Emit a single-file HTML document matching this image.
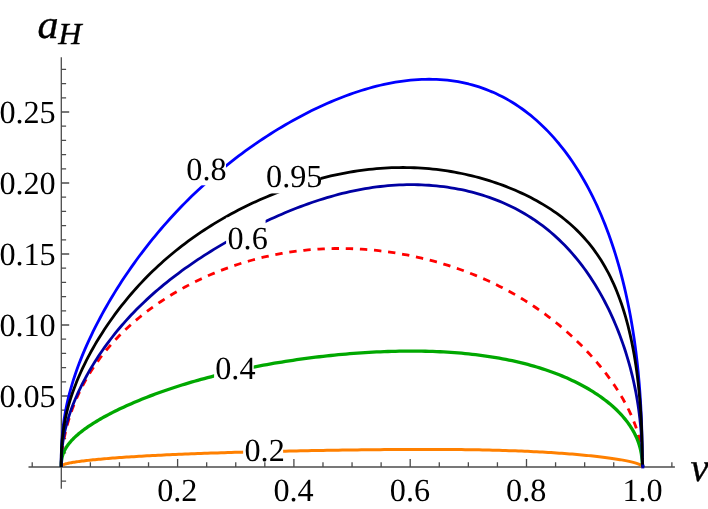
<!DOCTYPE html>
<html><head><meta charset="utf-8"><title>plot</title>
<style>
html,body{margin:0;padding:0;background:#fff;}
body{width:708px;height:509px;overflow:hidden;font-family:"Liberation Serif",serif;}
svg{display:block;will-change:transform;}
text{font-family:"Liberation Serif",serif;fill:#000;text-rendering:geometricPrecision;}
.t{font-size:32.2px;stroke:#000;stroke-width:0;}
.i{font-style:italic;stroke:#000;stroke-width:0.35;}
.c{fill:none;stroke-linejoin:round;}
</style></head><body>
<svg width="708" height="509" viewBox="0 0 708 509">
<rect width="708" height="509" fill="#fff"/>
<path d="M28.5,467.0 H674.9 M61.3,57.3 V488.7 M32.22,467.0 v-4.8 M90.38,467.0 v-4.8 M119.45,467.0 v-4.8 M148.53,467.0 v-4.8 M177.60,467.0 v-7.9 M206.68,467.0 v-4.8 M235.75,467.0 v-4.8 M264.82,467.0 v-4.8 M293.90,467.0 v-7.9 M322.98,467.0 v-4.8 M352.05,467.0 v-4.8 M381.13,467.0 v-4.8 M410.20,467.0 v-7.9 M439.28,467.0 v-4.8 M468.35,467.0 v-4.8 M497.43,467.0 v-4.8 M526.50,467.0 v-7.9 M555.58,467.0 v-4.8 M584.65,467.0 v-4.8 M613.73,467.0 v-4.8 M642.80,467.0 v-7.9 M671.88,467.0 v-4.8 M61.3,481.20 h4.8 M61.3,452.80 h4.8 M61.3,438.60 h4.8 M61.3,424.40 h4.8 M61.3,410.20 h4.8 M61.3,396.00 h7.9 M61.3,381.80 h4.8 M61.3,367.60 h4.8 M61.3,353.40 h4.8 M61.3,339.20 h4.8 M61.3,325.00 h7.9 M61.3,310.80 h4.8 M61.3,296.60 h4.8 M61.3,282.40 h4.8 M61.3,268.20 h4.8 M61.3,254.00 h7.9 M61.3,239.80 h4.8 M61.3,225.60 h4.8 M61.3,211.40 h4.8 M61.3,197.20 h4.8 M61.3,183.00 h7.9 M61.3,168.80 h4.8 M61.3,154.60 h4.8 M61.3,140.40 h4.8 M61.3,126.20 h4.8 M61.3,112.00 h7.9 M61.3,97.80 h4.8 M61.3,83.60 h4.8 M61.3,69.40 h4.8" stroke="#4c4c4c" stroke-width="1.3" fill="none"/>
<path class="c" d="M61.20,467.00 L61.23,466.62 L61.30,466.33 L61.43,466.08 L61.60,465.84 L61.83,465.61 L62.10,465.39 L62.43,465.18 L62.80,464.97 L63.23,464.77 L63.71,464.57 L64.23,464.37 L64.81,464.18 L65.43,463.99 L66.11,463.80 L66.83,463.61 L67.60,463.43 L68.42,463.24 L69.29,463.06 L70.21,462.88 L71.18,462.69 L72.20,462.51 L73.26,462.33 L74.38,462.15 L75.54,461.97 L76.75,461.79 L78.00,461.61 L79.31,461.43 L80.66,461.26 L82.06,461.08 L83.50,460.90 L84.99,460.72 L86.53,460.55 L88.11,460.37 L89.74,460.19 L91.41,460.02 L93.13,459.84 L94.89,459.67 L96.70,459.49 L98.55,459.32 L100.45,459.14 L102.38,458.97 L104.37,458.80 L106.39,458.62 L108.46,458.45 L110.57,458.28 L112.72,458.11 L114.91,457.94 L117.14,457.78 L119.41,457.61 L121.73,457.44 L124.08,457.28 L126.47,457.12 L128.90,456.96 L131.37,456.79 L133.88,456.64 L136.43,456.48 L139.01,456.32 L141.63,456.17 L144.28,456.01 L146.98,455.86 L149.70,455.71 L152.47,455.56 L155.26,455.42 L158.09,455.27 L160.96,455.13 L163.85,454.99 L166.78,454.85 L169.74,454.71 L172.74,454.58 L175.76,454.44 L178.81,454.31 L181.90,454.18 L185.01,454.05 L188.15,453.93 L191.32,453.81 L194.52,453.68 L197.75,453.56 L201.00,453.45 L204.28,453.33 L207.58,453.22 L210.91,453.10 L214.26,452.99 L217.64,452.88 L221.04,452.78 L224.46,452.67 L227.90,452.57 L231.37,452.47 L234.85,452.37 L238.36,452.27 L241.89,452.17 L245.43,452.08 L248.99,451.98 L252.58,451.89 L256.17,451.80 L259.79,451.71 L263.42,451.62 L267.07,451.54 L270.73,451.45 L274.40,451.37 L278.09,451.29 L281.79,451.21 L285.50,451.13 L289.23,451.05 L292.96,450.98 L296.71,450.90 L300.46,450.83 L304.22,450.75 L308.00,450.68 L311.78,450.61 L315.56,450.55 L319.35,450.48 L323.15,450.41 L326.96,450.35 L330.76,450.29 L334.57,450.23 L338.39,450.17 L342.20,450.11 L346.02,450.06 L349.84,450.00 L353.66,449.95 L357.48,449.90 L361.30,449.85 L365.11,449.80 L368.93,449.76 L372.74,449.72 L376.54,449.68 L380.35,449.64 L384.15,449.60 L387.94,449.57 L391.72,449.54 L395.50,449.52 L399.28,449.49 L403.04,449.47 L406.79,449.45 L410.54,449.44 L414.27,449.42 L418.00,449.41 L421.71,449.41 L425.41,449.41 L429.10,449.41 L432.77,449.41 L436.43,449.42 L440.08,449.44 L443.71,449.45 L447.33,449.47 L450.92,449.50 L454.51,449.53 L458.07,449.56 L461.61,449.60 L465.14,449.64 L468.65,449.69 L472.13,449.74 L475.60,449.80 L479.04,449.86 L482.46,449.93 L485.86,450.00 L489.24,450.07 L492.59,450.16 L495.92,450.24 L499.22,450.33 L502.50,450.43 L505.75,450.53 L508.98,450.63 L512.18,450.74 L515.35,450.86 L518.49,450.98 L521.60,451.10 L524.69,451.23 L527.74,451.37 L530.76,451.51 L533.76,451.65 L536.72,451.80 L539.65,451.96 L542.54,452.11 L545.41,452.28 L548.24,452.44 L551.03,452.61 L553.80,452.79 L556.52,452.97 L559.22,453.15 L561.87,453.34 L564.49,453.53 L567.07,453.72 L569.62,453.92 L572.13,454.12 L574.60,454.33 L577.03,454.54 L579.42,454.75 L581.77,454.96 L584.09,455.18 L586.36,455.40 L588.59,455.62 L590.78,455.84 L592.93,456.07 L595.04,456.30 L597.11,456.53 L599.13,456.76 L601.12,456.99 L603.05,457.23 L604.95,457.47 L606.80,457.70 L608.61,457.94 L610.37,458.19 L612.09,458.43 L613.76,458.67 L615.39,458.91 L616.97,459.16 L618.51,459.40 L620.00,459.65 L621.44,459.89 L622.84,460.14 L624.19,460.38 L625.50,460.63 L626.75,460.88 L627.96,461.12 L629.12,461.37 L630.24,461.62 L631.30,461.86 L632.32,462.11 L633.29,462.36 L634.21,462.60 L635.08,462.85 L635.90,463.10 L636.67,463.34 L637.39,463.59 L638.07,463.83 L638.69,464.08 L639.27,464.32 L639.79,464.57 L640.27,464.81 L640.70,465.05 L641.07,465.30 L641.40,465.54 L641.67,465.78 L641.90,466.03 L642.07,466.27 L642.20,466.51 L642.27,466.76 L642.80,467.00" stroke="#ff8000" stroke-width="3.0"/>
<path class="c" d="M61.20,467.00 L61.23,464.92 L61.30,462.53 L61.43,460.02 L61.60,457.43 L61.83,454.78 L62.10,452.08 L62.43,449.33 L62.80,446.56 L63.23,443.76 L63.71,440.94 L64.23,438.10 L64.81,435.24 L65.43,432.38 L66.11,429.51 L66.83,426.63 L67.60,423.75 L68.42,420.86 L69.29,417.98 L70.21,415.10 L71.18,412.23 L72.20,409.36 L73.26,406.50 L74.38,403.65 L75.54,400.80 L76.75,397.97 L78.00,395.16 L79.31,392.35 L80.66,389.56 L82.06,386.79 L83.50,384.04 L84.99,381.30 L86.53,378.58 L88.11,375.87 L89.74,373.19 L91.41,370.53 L93.13,367.89 L94.89,365.27 L96.70,362.67 L98.55,360.09 L100.45,357.53 L102.38,355.00 L104.37,352.49 L106.39,350.00 L108.46,347.54 L110.57,345.10 L112.72,342.68 L114.91,340.29 L117.14,337.92 L119.41,335.58 L121.73,333.26 L124.08,330.97 L126.47,328.69 L128.90,326.45 L131.37,324.23 L133.88,322.03 L136.43,319.86 L139.01,317.72 L141.63,315.60 L144.28,313.51 L146.98,311.44 L149.70,309.40 L152.47,307.38 L155.26,305.39 L158.09,303.43 L160.96,301.50 L163.85,299.59 L166.78,297.71 L169.74,295.86 L172.74,294.04 L175.76,292.25 L178.81,290.48 L181.90,288.75 L185.01,287.04 L188.15,285.37 L191.32,283.73 L194.52,282.11 L197.75,280.53 L201.00,278.99 L204.28,277.47 L207.58,275.99 L210.91,274.54 L214.26,273.13 L217.64,271.75 L221.04,270.41 L224.46,269.10 L227.90,267.83 L231.37,266.60 L234.85,265.40 L238.36,264.24 L241.89,263.12 L245.43,262.04 L248.99,261.00 L252.58,260.00 L256.17,259.03 L259.79,258.11 L263.42,257.23 L267.07,256.39 L270.73,255.59 L274.40,254.83 L278.09,254.12 L281.79,253.44 L285.50,252.81 L289.23,252.22 L292.96,251.68 L296.71,251.17 L300.46,250.71 L304.22,250.30 L308.00,249.92 L311.78,249.59 L315.56,249.30 L319.35,249.06 L323.15,248.86 L326.96,248.70 L330.76,248.58 L334.57,248.51 L338.39,248.48 L342.20,248.49 L346.02,248.54 L349.84,248.64 L353.66,248.78 L357.48,248.96 L361.30,249.18 L365.11,249.44 L368.93,249.75 L372.74,250.09 L376.54,250.48 L380.35,250.90 L384.15,251.37 L387.94,251.87 L391.72,252.42 L395.50,253.00 L399.28,253.63 L403.04,254.29 L406.79,254.99 L410.54,255.73 L414.27,256.51 L418.00,257.32 L421.71,258.18 L425.41,259.07 L429.10,260.00 L432.77,260.96 L436.43,261.96 L440.08,263.00 L443.71,264.08 L447.33,265.19 L450.92,266.34 L454.51,267.52 L458.07,268.74 L461.61,270.00 L465.14,271.29 L468.65,272.62 L472.13,273.98 L475.60,275.38 L479.04,276.81 L482.46,278.28 L485.86,279.78 L489.24,281.32 L492.59,282.89 L495.92,284.49 L499.22,286.13 L502.50,287.79 L505.75,289.50 L508.98,291.23 L512.18,293.00 L515.35,294.80 L518.49,296.63 L521.60,298.49 L524.69,300.38 L527.74,302.30 L530.76,304.25 L533.76,306.23 L536.72,308.23 L539.65,310.26 L542.54,312.32 L545.41,314.41 L548.24,316.52 L551.03,318.66 L553.80,320.82 L556.52,323.00 L559.22,325.20 L561.87,327.42 L564.49,329.67 L567.07,331.93 L569.62,334.21 L572.13,336.51 L574.60,338.82 L577.03,341.15 L579.42,343.49 L581.77,345.85 L584.09,348.21 L586.36,350.59 L588.59,352.98 L590.78,355.37 L592.93,357.77 L595.04,360.18 L597.11,362.60 L599.13,365.01 L601.12,367.44 L603.05,369.86 L604.95,372.28 L606.80,374.71 L608.61,377.13 L610.37,379.56 L612.09,381.98 L613.76,384.40 L615.39,386.81 L616.97,389.22 L618.51,391.63 L620.00,394.03 L621.44,396.43 L622.84,398.82 L624.19,401.20 L625.50,403.58 L626.75,405.95 L627.96,408.32 L629.12,410.68 L630.24,413.04 L631.30,415.39 L632.32,417.73 L633.29,420.07 L634.21,422.41 L635.08,424.75 L635.90,427.08 L636.67,429.42 L637.39,431.75 L638.07,434.09 L638.69,436.43 L639.27,438.79 L639.79,441.15 L640.27,443.52 L640.70,445.91 L641.07,448.32 L641.40,450.75 L641.67,453.23 L641.90,455.74 L642.07,458.31 L642.20,460.97 L642.27,463.77 L642.80,467.00" stroke="#ff0000" stroke-width="2.8" stroke-dasharray="7.4 6.76" stroke-dashoffset="-13.94"/>
<path class="c" d="M61.20,467.00 L61.23,464.69 L61.30,462.98 L61.43,461.44 L61.60,460.00 L61.83,458.62 L62.10,457.30 L62.43,456.02 L62.80,454.76 L63.23,453.54 L63.71,452.34 L64.23,451.15 L64.81,449.99 L65.43,448.83 L66.11,447.69 L66.83,446.55 L67.60,445.43 L68.42,444.31 L69.29,443.19 L70.21,442.08 L71.18,440.98 L72.20,439.88 L73.26,438.78 L74.38,437.68 L75.54,436.58 L76.75,435.49 L78.00,434.39 L79.31,433.30 L80.66,432.21 L82.06,431.11 L83.50,430.01 L84.99,428.92 L86.53,427.82 L88.11,426.72 L89.74,425.62 L91.41,424.52 L93.13,423.42 L94.89,422.32 L96.70,421.22 L98.55,420.12 L100.45,419.01 L102.38,417.91 L104.37,416.81 L106.39,415.70 L108.46,414.60 L110.57,413.50 L112.72,412.39 L114.91,411.29 L117.14,410.19 L119.41,409.10 L121.73,408.00 L124.08,406.91 L126.47,405.81 L128.90,404.73 L131.37,403.64 L133.88,402.56 L136.43,401.48 L139.01,400.41 L141.63,399.34 L144.28,398.27 L146.98,397.22 L149.70,396.16 L152.47,395.12 L155.26,394.07 L158.09,393.04 L160.96,392.01 L163.85,390.99 L166.78,389.98 L169.74,388.98 L172.74,387.98 L175.76,387.00 L178.81,386.02 L181.90,385.05 L185.01,384.09 L188.15,383.14 L191.32,382.20 L194.52,381.27 L197.75,380.36 L201.00,379.45 L204.28,378.55 L207.58,377.67 L210.91,376.79 L214.26,375.93 L217.64,375.08 L221.04,374.24 L224.46,373.42 L227.90,372.60 L231.37,371.80 L234.85,371.02 L238.36,370.24 L241.89,369.48 L245.43,368.73 L248.99,368.00 L252.58,367.27 L256.17,366.57 L259.79,365.87 L263.42,365.19 L267.07,364.53 L270.73,363.88 L274.40,363.24 L278.09,362.61 L281.79,362.01 L285.50,361.41 L289.23,360.83 L292.96,360.27 L296.71,359.72 L300.46,359.19 L304.22,358.67 L308.00,358.17 L311.78,357.68 L315.56,357.21 L319.35,356.75 L323.15,356.32 L326.96,355.89 L330.76,355.49 L334.57,355.10 L338.39,354.72 L342.20,354.37 L346.02,354.03 L349.84,353.71 L353.66,353.40 L357.48,353.12 L361.30,352.85 L365.11,352.60 L368.93,352.37 L372.74,352.15 L376.54,351.96 L380.35,351.78 L384.15,351.63 L387.94,351.49 L391.72,351.37 L395.50,351.28 L399.28,351.20 L403.04,351.14 L406.79,351.11 L410.54,351.09 L414.27,351.10 L418.00,351.13 L421.71,351.18 L425.41,351.25 L429.10,351.34 L432.77,351.46 L436.43,351.60 L440.08,351.76 L443.71,351.95 L447.33,352.15 L450.92,352.39 L454.51,352.64 L458.07,352.92 L461.61,353.22 L465.14,353.55 L468.65,353.90 L472.13,354.28 L475.60,354.68 L479.04,355.10 L482.46,355.55 L485.86,356.03 L489.24,356.53 L492.59,357.05 L495.92,357.60 L499.22,358.18 L502.50,358.78 L505.75,359.40 L508.98,360.05 L512.18,360.73 L515.35,361.43 L518.49,362.15 L521.60,362.90 L524.69,363.67 L527.74,364.47 L530.76,365.29 L533.76,366.14 L536.72,367.01 L539.65,367.91 L542.54,368.82 L545.41,369.76 L548.24,370.73 L551.03,371.71 L553.80,372.72 L556.52,373.76 L559.22,374.81 L561.87,375.88 L564.49,376.98 L567.07,378.10 L569.62,379.24 L572.13,380.40 L574.60,381.57 L577.03,382.77 L579.42,383.99 L581.77,385.23 L584.09,386.48 L586.36,387.76 L588.59,389.05 L590.78,390.36 L592.93,391.68 L595.04,393.02 L597.11,394.38 L599.13,395.76 L601.12,397.15 L603.05,398.55 L604.95,399.97 L606.80,401.41 L608.61,402.86 L610.37,404.32 L612.09,405.80 L613.76,407.29 L615.39,408.79 L616.97,410.31 L618.51,411.84 L620.00,413.38 L621.44,414.93 L622.84,416.50 L624.19,418.08 L625.50,419.67 L626.75,421.27 L627.96,422.88 L629.12,424.51 L630.24,426.14 L631.30,427.79 L632.32,429.45 L633.29,431.13 L634.21,432.81 L635.08,434.51 L635.90,436.22 L636.67,437.94 L637.39,439.68 L638.07,441.43 L638.69,443.20 L639.27,444.99 L639.79,446.79 L640.27,448.62 L640.70,450.46 L641.07,452.33 L641.40,454.23 L641.67,456.16 L641.90,458.13 L642.07,460.15 L642.20,462.25 L642.27,464.45 L642.80,467.00" stroke="#00a800" stroke-width="3.3"/>
<path class="c" d="M61.20,467.00 L61.23,460.00 L61.30,454.81 L61.43,450.13 L61.60,445.75 L61.83,441.58 L62.10,437.55 L62.43,433.65 L62.80,429.83 L63.23,426.09 L63.71,422.42 L64.23,418.79 L64.81,415.21 L65.43,411.65 L66.11,408.13 L66.83,404.63 L67.60,401.14 L68.42,397.67 L69.29,394.21 L70.21,390.76 L71.18,387.31 L72.20,383.86 L73.26,380.41 L74.38,376.96 L75.54,373.51 L76.75,370.05 L78.00,366.58 L79.31,363.11 L80.66,359.63 L82.06,356.14 L83.50,352.64 L84.99,349.14 L86.53,345.62 L88.11,342.10 L89.74,338.57 L91.41,335.03 L93.13,331.48 L94.89,327.92 L96.70,324.36 L98.55,320.79 L100.45,317.22 L102.38,313.64 L104.37,310.05 L106.39,306.47 L108.46,302.88 L110.57,299.29 L112.72,295.70 L114.91,292.11 L117.14,288.52 L119.41,284.94 L121.73,281.36 L124.08,277.79 L126.47,274.22 L128.90,270.67 L131.37,267.12 L133.88,263.58 L136.43,260.05 L139.01,256.54 L141.63,253.04 L144.28,249.55 L146.98,246.08 L149.70,242.63 L152.47,239.19 L155.26,235.78 L158.09,232.38 L160.96,229.01 L163.85,225.66 L166.78,222.33 L169.74,219.02 L172.74,215.74 L175.76,212.48 L178.81,209.25 L181.90,206.05 L185.01,202.87 L188.15,199.72 L191.32,196.60 L194.52,193.51 L197.75,190.45 L201.00,187.42 L204.28,184.42 L207.58,181.45 L210.91,178.51 L214.26,175.60 L217.64,172.73 L221.04,169.89 L224.46,167.08 L227.90,164.30 L231.37,161.56 L234.85,158.85 L238.36,156.18 L241.89,153.54 L245.43,150.94 L248.99,148.37 L252.58,145.84 L256.17,143.35 L259.79,140.89 L263.42,138.47 L267.07,136.09 L270.73,133.74 L274.40,131.43 L278.09,129.17 L281.79,126.94 L285.50,124.75 L289.23,122.60 L292.96,120.50 L296.71,118.43 L300.46,116.41 L304.22,114.43 L308.00,112.50 L311.78,110.61 L315.56,108.77 L319.35,106.97 L323.15,105.22 L326.96,103.51 L330.76,101.86 L334.57,100.26 L338.39,98.70 L342.20,97.20 L346.02,95.75 L349.84,94.36 L353.66,93.01 L357.48,91.73 L361.30,90.50 L365.11,89.33 L368.93,88.22 L372.74,87.16 L376.54,86.17 L380.35,85.24 L384.15,84.37 L387.94,83.57 L391.72,82.83 L395.50,82.16 L399.28,81.56 L403.04,81.02 L406.79,80.55 L410.54,80.15 L414.27,79.82 L418.00,79.57 L421.71,79.39 L425.41,79.28 L429.10,79.24 L432.77,79.28 L436.43,79.40 L440.08,79.59 L443.71,79.86 L447.33,80.21 L450.92,80.64 L454.51,81.15 L458.07,81.73 L461.61,82.40 L465.14,83.15 L468.65,83.98 L472.13,84.89 L475.60,85.88 L479.04,86.96 L482.46,88.11 L485.86,89.36 L489.24,90.68 L492.59,92.09 L495.92,93.58 L499.22,95.15 L502.50,96.81 L505.75,98.55 L508.98,100.37 L512.18,102.28 L515.35,104.27 L518.49,106.35 L521.60,108.50 L524.69,110.75 L527.74,113.07 L530.76,115.47 L533.76,117.96 L536.72,120.53 L539.65,123.19 L542.54,125.92 L545.41,128.73 L548.24,131.63 L551.03,134.61 L553.80,137.66 L556.52,140.80 L559.22,144.01 L561.87,147.31 L564.49,150.68 L567.07,154.13 L569.62,157.66 L572.13,161.27 L574.60,164.95 L577.03,168.71 L579.42,172.55 L581.77,176.46 L584.09,180.45 L586.36,184.52 L588.59,188.65 L590.78,192.87 L592.93,197.15 L595.04,201.51 L597.11,205.94 L599.13,210.45 L601.12,215.02 L603.05,219.67 L604.95,224.39 L606.80,229.18 L608.61,234.04 L610.37,238.96 L612.09,243.96 L613.76,249.03 L615.39,254.17 L616.97,259.37 L618.51,264.65 L620.00,269.99 L621.44,275.39 L622.84,280.87 L624.19,286.41 L625.50,292.02 L626.75,297.69 L627.96,303.43 L629.12,309.24 L630.24,315.11 L631.30,321.05 L632.32,327.06 L633.29,333.13 L634.21,339.27 L635.08,345.48 L635.90,351.75 L636.67,358.10 L637.39,364.52 L638.07,371.01 L638.69,377.58 L639.27,384.22 L639.79,390.95 L640.27,397.77 L640.70,404.68 L641.07,411.70 L641.40,418.84 L641.67,426.10 L641.90,433.53 L642.07,441.16 L642.20,449.05 L642.27,457.38 L642.80,467.00" stroke="#0000ff" stroke-width="2.8"/>
<path class="c" d="M61.20,467.00 L61.23,463.26 L61.30,460.02 L61.43,456.94 L61.60,453.96 L61.83,451.05 L62.10,448.18 L62.43,445.35 L62.80,442.55 L63.23,439.77 L63.71,437.01 L64.23,434.26 L64.81,431.52 L65.43,428.78 L66.11,426.04 L66.83,423.31 L67.60,420.57 L68.42,417.84 L69.29,415.09 L70.21,412.34 L71.18,409.59 L72.20,406.83 L73.26,404.06 L74.38,401.28 L75.54,398.50 L76.75,395.71 L78.00,392.91 L79.31,390.10 L80.66,387.29 L82.06,384.47 L83.50,381.64 L84.99,378.81 L86.53,375.98 L88.11,373.14 L89.74,370.30 L91.41,367.46 L93.13,364.62 L94.89,361.78 L96.70,358.95 L98.55,356.11 L100.45,353.29 L102.38,350.47 L104.37,347.65 L106.39,344.84 L108.46,342.05 L110.57,339.26 L112.72,336.49 L114.91,333.72 L117.14,330.97 L119.41,328.24 L121.73,325.52 L124.08,322.82 L126.47,320.14 L128.90,317.47 L131.37,314.82 L133.88,312.20 L136.43,309.59 L139.01,307.00 L141.63,304.43 L144.28,301.89 L146.98,299.36 L149.70,296.86 L152.47,294.37 L155.26,291.91 L158.09,289.47 L160.96,287.06 L163.85,284.66 L166.78,282.29 L169.74,279.94 L172.74,277.61 L175.76,275.30 L178.81,273.01 L181.90,270.74 L185.01,268.49 L188.15,266.27 L191.32,264.06 L194.52,261.88 L197.75,259.71 L201.00,257.57 L204.28,255.44 L207.58,253.33 L210.91,251.25 L214.26,249.18 L217.64,247.14 L221.04,245.11 L224.46,243.10 L227.90,241.12 L231.37,239.15 L234.85,237.21 L238.36,235.29 L241.89,233.39 L245.43,231.52 L248.99,229.66 L252.58,227.83 L256.17,226.03 L259.79,224.25 L263.42,222.50 L267.07,220.77 L270.73,219.07 L274.40,217.40 L278.09,215.77 L281.79,214.16 L285.50,212.58 L289.23,211.04 L292.96,209.53 L296.71,208.05 L300.46,206.62 L304.22,205.22 L308.00,203.85 L311.78,202.53 L315.56,201.25 L319.35,200.01 L323.15,198.81 L326.96,197.65 L330.76,196.54 L334.57,195.48 L338.39,194.46 L342.20,193.48 L346.02,192.56 L349.84,191.68 L353.66,190.85 L357.48,190.08 L361.30,189.35 L365.11,188.67 L368.93,188.05 L372.74,187.48 L376.54,186.96 L380.35,186.49 L384.15,186.07 L387.94,185.71 L391.72,185.40 L395.50,185.15 L399.28,184.94 L403.04,184.80 L406.79,184.70 L410.54,184.66 L414.27,184.67 L418.00,184.74 L421.71,184.86 L425.41,185.04 L429.10,185.26 L432.77,185.54 L436.43,185.88 L440.08,186.27 L443.71,186.71 L447.33,187.21 L450.92,187.76 L454.51,188.36 L458.07,189.02 L461.61,189.73 L465.14,190.49 L468.65,191.31 L472.13,192.19 L475.60,193.11 L479.04,194.09 L482.46,195.13 L485.86,196.22 L489.24,197.37 L492.59,198.57 L495.92,199.83 L499.22,201.15 L502.50,202.52 L505.75,203.95 L508.98,205.44 L512.18,206.99 L515.35,208.59 L518.49,210.25 L521.60,211.98 L524.69,213.76 L527.74,215.60 L530.76,217.50 L533.76,219.46 L536.72,221.49 L539.65,223.57 L542.54,225.72 L545.41,227.92 L548.24,230.19 L551.03,232.52 L553.80,234.91 L556.52,237.36 L559.22,239.88 L561.87,242.45 L564.49,245.09 L567.07,247.78 L569.62,250.53 L572.13,253.35 L574.60,256.22 L577.03,259.15 L579.42,262.13 L581.77,265.17 L584.09,268.27 L586.36,271.42 L588.59,274.62 L590.78,277.87 L592.93,281.18 L595.04,284.53 L597.11,287.93 L599.13,291.37 L601.12,294.86 L603.05,298.40 L604.95,301.97 L606.80,305.59 L608.61,309.24 L610.37,312.93 L612.09,316.66 L613.76,320.42 L615.39,324.21 L616.97,328.03 L618.51,331.88 L620.00,335.77 L621.44,339.67 L622.84,343.61 L624.19,347.57 L625.50,351.55 L626.75,355.56 L627.96,359.59 L629.12,363.64 L630.24,367.71 L631.30,371.80 L632.32,375.92 L633.29,380.05 L634.21,384.21 L635.08,388.39 L635.90,392.59 L636.67,396.81 L637.39,401.06 L638.07,405.34 L638.69,409.65 L639.27,413.99 L639.79,418.36 L640.27,422.77 L640.70,427.23 L641.07,431.75 L641.40,436.32 L641.67,440.97 L641.90,445.71 L642.07,450.57 L642.20,455.59 L642.27,460.89 L642.80,467.00" stroke="#0000a3" stroke-width="2.8"/>
<path class="c" d="M61.20,467.00 L61.23,460.84 L61.30,456.27 L61.43,452.14 L61.60,448.29 L61.83,444.61 L62.10,441.07 L62.43,437.62 L62.80,434.26 L63.23,430.97 L63.71,427.73 L64.23,424.53 L64.81,421.37 L65.43,418.24 L66.11,415.13 L66.83,412.05 L67.60,408.97 L68.42,405.91 L69.29,402.86 L70.21,399.82 L71.18,396.78 L72.20,393.74 L73.26,390.71 L74.38,387.67 L75.54,384.64 L76.75,381.60 L78.00,378.55 L79.31,375.51 L80.66,372.46 L82.06,369.41 L83.50,366.35 L84.99,363.29 L86.53,360.23 L88.11,357.17 L89.74,354.10 L91.41,351.03 L93.13,347.96 L94.89,344.89 L96.70,341.83 L98.55,338.76 L100.45,335.70 L102.38,332.64 L104.37,329.58 L106.39,326.54 L108.46,323.50 L110.57,320.46 L112.72,317.44 L114.91,314.43 L117.14,311.43 L119.41,308.45 L121.73,305.47 L124.08,302.52 L126.47,299.58 L128.90,296.66 L131.37,293.76 L133.88,290.88 L136.43,288.02 L139.01,285.18 L141.63,282.37 L144.28,279.58 L146.98,276.82 L149.70,274.08 L152.47,271.37 L155.26,268.69 L158.09,266.04 L160.96,263.41 L163.85,260.82 L166.78,258.25 L169.74,255.72 L172.74,253.21 L175.76,250.74 L178.81,248.30 L181.90,245.90 L185.01,243.52 L188.15,241.18 L191.32,238.87 L194.52,236.59 L197.75,234.35 L201.00,232.14 L204.28,229.97 L207.58,227.83 L210.91,225.72 L214.26,223.65 L217.64,221.61 L221.04,219.60 L224.46,217.63 L227.90,215.70 L231.37,213.79 L234.85,211.92 L238.36,210.09 L241.89,208.29 L245.43,206.53 L248.99,204.79 L252.58,203.10 L256.17,201.44 L259.79,199.81 L263.42,198.22 L267.07,196.67 L270.73,195.15 L274.40,193.66 L278.09,192.21 L281.79,190.80 L285.50,189.43 L289.23,188.09 L292.96,186.79 L296.71,185.53 L300.46,184.31 L304.22,183.13 L308.00,181.98 L311.78,180.88 L315.56,179.82 L319.35,178.79 L323.15,177.81 L326.96,176.87 L330.76,175.97 L334.57,175.12 L338.39,174.31 L342.20,173.54 L346.02,172.81 L349.84,172.13 L353.66,171.50 L357.48,170.91 L361.30,170.37 L365.11,169.87 L368.93,169.42 L372.74,169.02 L376.54,168.66 L380.35,168.35 L384.15,168.09 L387.94,167.88 L391.72,167.71 L395.50,167.60 L399.28,167.53 L403.04,167.51 L406.79,167.53 L410.54,167.60 L414.27,167.73 L418.00,167.89 L421.71,168.11 L425.41,168.37 L429.10,168.68 L432.77,169.04 L436.43,169.44 L440.08,169.89 L443.71,170.38 L447.33,170.91 L450.92,171.50 L454.51,172.12 L458.07,172.79 L461.61,173.50 L465.14,174.25 L468.65,175.05 L472.13,175.88 L475.60,176.76 L479.04,177.67 L482.46,178.63 L485.86,179.63 L489.24,180.66 L492.59,181.74 L495.92,182.85 L499.22,184.00 L502.50,185.19 L505.75,186.41 L508.98,187.68 L512.18,188.98 L515.35,190.32 L518.49,191.69 L521.60,193.11 L524.69,194.56 L527.74,196.06 L530.76,197.59 L533.76,199.16 L536.72,200.77 L539.65,202.42 L542.54,204.11 L545.41,205.85 L548.24,207.62 L551.03,209.45 L553.80,211.31 L556.52,213.23 L559.22,215.19 L561.87,217.20 L564.49,219.26 L567.07,221.37 L569.62,223.54 L572.13,225.76 L574.60,228.03 L577.03,230.37 L579.42,232.76 L581.77,235.22 L584.09,237.73 L586.36,240.32 L588.59,242.96 L590.78,245.68 L592.93,248.47 L595.04,251.32 L597.11,254.25 L599.13,257.26 L601.12,260.34 L603.05,263.50 L604.95,266.74 L606.80,270.06 L608.61,273.46 L610.37,276.95 L612.09,280.52 L613.76,284.18 L615.39,287.93 L616.97,291.76 L618.51,295.68 L620.00,299.69 L621.44,303.80 L622.84,307.99 L624.19,312.28 L625.50,316.66 L626.75,321.13 L627.96,325.70 L629.12,330.35 L630.24,335.11 L631.30,339.95 L632.32,344.89 L633.29,349.92 L634.21,355.05 L635.08,360.26 L635.90,365.57 L636.67,370.98 L637.39,376.48 L638.07,382.07 L638.69,387.76 L639.27,393.54 L639.79,399.42 L640.27,405.41 L640.70,411.50 L641.07,417.70 L641.40,424.03 L641.67,430.48 L641.90,437.10 L642.07,443.90 L642.20,450.95 L642.27,458.40 L642.80,467.00" stroke="#000000" stroke-width="2.8"/>
<rect x="641.3" y="464.6" width="3.0" height="3.8" fill="#0000b0"/>
<rect x="185.1" y="148.6" width="40.90" height="36.70" fill="#fff"/>
<rect x="264.9" y="155.1" width="55.40" height="38.30" fill="#fff"/>
<rect x="226.1" y="217.6" width="39.50" height="37.40" fill="#fff"/>
<rect x="214.1" y="347.2" width="39.60" height="37.80" fill="#fff"/>
<rect x="243.15" y="429.35" width="39.95" height="32.45" fill="#fff"/>
<text class="t" x="186.30" y="180.10">0.8</text>
<text class="t" x="266.10" y="186.60">0.95</text>
<text class="t" x="227.50" y="249.10">0.6</text>
<text class="t" x="215.25" y="378.70">0.4</text>
<text class="t" x="244.50" y="460.85">0.2</text>
<text class="t" x="55.7" y="406.50" text-anchor="end">0.05</text>
<text class="t" x="55.7" y="335.50" text-anchor="end">0.10</text>
<text class="t" x="55.7" y="264.50" text-anchor="end">0.15</text>
<text class="t" x="55.7" y="193.50" text-anchor="end">0.20</text>
<text class="t" x="55.7" y="122.50" text-anchor="end">0.25</text>
<text class="t" x="177.30" y="501.0" text-anchor="middle">0.2</text>
<text class="t" x="293.60" y="501.0" text-anchor="middle">0.4</text>
<text class="t" x="409.90" y="501.0" text-anchor="middle">0.6</text>
<text class="t" x="526.20" y="501.0" text-anchor="middle">0.8</text>
<text class="t" x="642.50" y="501.0" text-anchor="middle">1.0</text>
<text class="i" transform="translate(37.6,38.2) scale(1.04,1)" style="font-size:40.5px">a</text>
<text class="i" transform="translate(58.2,44.2) scale(1.06,1)" style="font-size:30.5px">H</text>
<text class="i" transform="translate(690.6,480.8) scale(1.0,1)" style="font-size:41px">ν</text>
</svg></body></html>
